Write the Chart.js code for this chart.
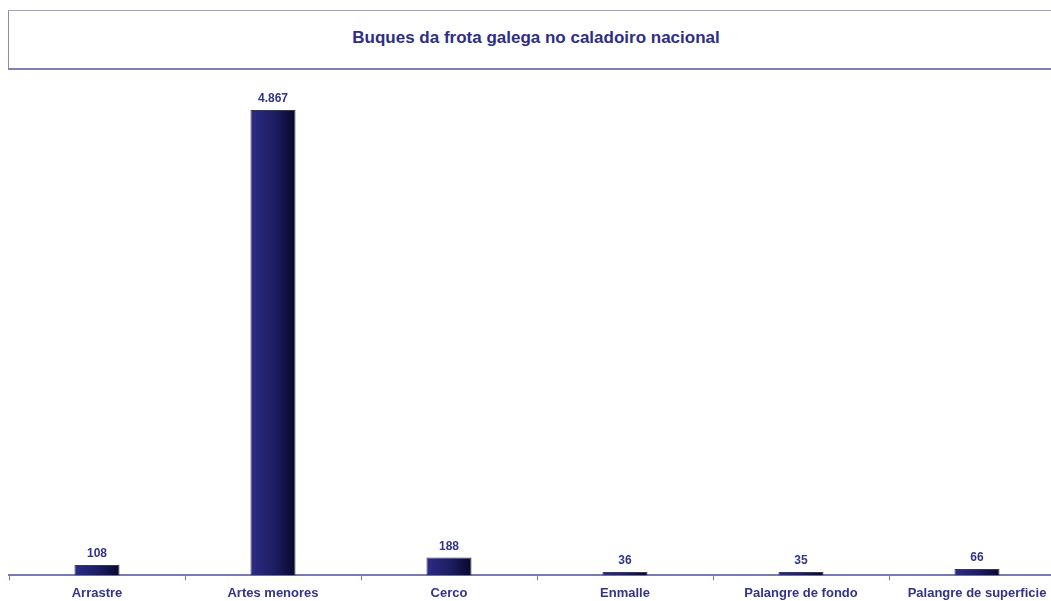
<!DOCTYPE html>
<html>
<head>
<meta charset="utf-8">
<script src="https://cdn.jsdelivr.net/npm/chart.js@4"></script>
<style>
    html, body { margin: 0; padding: 0; background: #fff; overflow: hidden; width: 1051px; height: 601px; }
    .title-box {
        position: absolute; left: 8px; top: 10px; width: 1060px; height: 57px;
        border-top: 1px solid #a0a0c8; border-left: 1px solid #8a8ab8; border-bottom: 2px solid #8080b0;
        box-sizing: content-box;
    }
    .title-box span {
        position: absolute; left: 0; width: 1054px; top: 17px; text-align: center;
        font: bold 17px "Liberation Sans", Arial, sans-serif; color: #2e2e86;
    }
    #wrap { position: absolute; left: 0; top: 0; width: 1070px; height: 606px; }
</style>
</head>
<body>
<div class="title-box"><span>Buques da frota galega no caladoiro nacional</span></div>
<div id="wrap"><canvas id="chart"></canvas></div>
<script>
// --------------------------------------------------------------------------
// DATA
// --------------------------------------------------------------------------
const categories = ['Arrastre', 'Artes menores', 'Cerco', 'Enmalle', 'Palangre de fondo', 'Palangre de superficie'];
const vessels = [108, 4867, 188, 36, 35, 66];

const TEXT_COLOR = '#33338a';
const AXIS_COLOR = '#7a7ab4';

function formatNum(v) {
    return String(v).replace(/\B(?=(\d{3})+(?!\d))/g, '.');
}

// gradient per bar, dark blue on the left to near-black on the right
function barGradient(ctx) {
    const chart = ctx.chart;
    const scale = chart.scales.x;
    if (!scale || !chart.chartArea) return '#1e1e6e';
    const x = scale.getPixelForValue(ctx.dataIndex);
    const half = 23;
    const g = chart.ctx.createLinearGradient(x - half, 0, x + half, 0);
    g.addColorStop(0, '#2c2c86');
    g.addColorStop(0.5, '#1e1e66');
    g.addColorStop(1, '#08082a');
    return g;
}

const valueLabels = {
    id: 'valueLabels',
    afterDatasetsDraw(chart) {
        const { ctx } = chart;
        const meta = chart.getDatasetMeta(0);
        ctx.save();
        ctx.font = 'bold 12px "Liberation Sans", Arial, sans-serif';
        ctx.fillStyle = TEXT_COLOR;
        ctx.textAlign = 'center';
        ctx.textBaseline = 'bottom';
        meta.data.forEach((bar, i) => {
            ctx.fillText(formatNum(vessels[i]), bar.x, bar.y - 5);
        });
        ctx.restore();
    }
};

new Chart(document.getElementById('chart'), {
    type: 'bar',
    data: {
        labels: categories,
        datasets: [{
            data: vessels,
            backgroundColor: barGradient,
            borderColor: '#3a3a44',
            borderWidth: 1,
            barPercentage: 0.256,
            categoryPercentage: 1
        }]
    },
    options: {
        responsive: true,
        maintainAspectRatio: false,
        animation: false,
        layout: { padding: { left: 9, right: 5, top: 80, bottom: 0 } },
        plugins: { legend: { display: false }, tooltip: { enabled: false } },
        scales: {
            x: {
                offset: true,
                grid: { offset: true, drawOnChartArea: false, tickLength: 5, color: AXIS_COLOR, lineWidth: 1 },
                border: { color: AXIS_COLOR, width: 2 },
                ticks: {
                    color: TEXT_COLOR,
                    padding: 5,
                    maxRotation: 0,
                    autoSkip: false,
                    font: { family: '"Liberation Sans", Arial, sans-serif', size: 13, weight: 'bold' }
                }
            },
            y: { display: false, min: 0, max: 5180 }
        }
    },
    plugins: [valueLabels]
});
</script>
</body>
</html>
